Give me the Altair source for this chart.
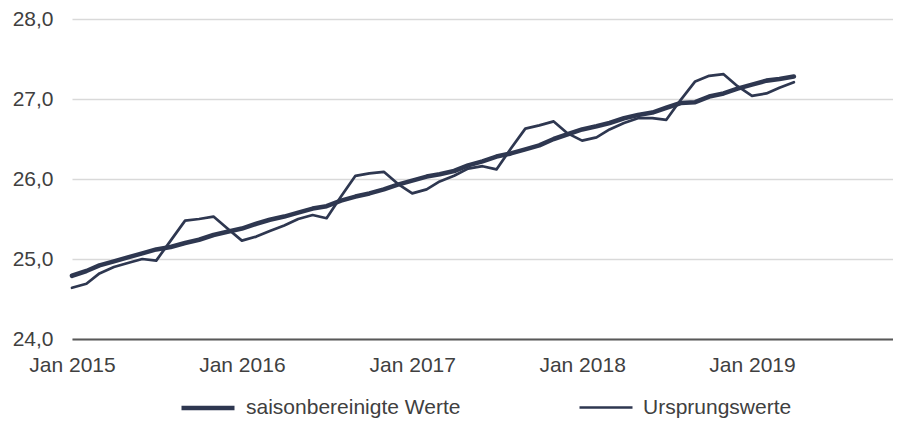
import altair as alt
import pandas as pd

# Monthly observations, Jan 2015 .. Apr 2019
months = pd.date_range("2015-01-01", periods=52, freq="MS").strftime("%Y-%m-%dT00:00:00").tolist()

series_names = ["saisonbereinigte Werte", "Ursprungswerte"]

saisonbereinigt = [
    24.79, 24.85, 24.92, 24.97, 25.02, 25.07, 25.12, 25.15, 25.20, 25.24, 25.30, 25.34,
    25.38, 25.44, 25.49, 25.53, 25.58, 25.63, 25.66, 25.73, 25.78, 25.82, 25.87, 25.93,
    25.98, 26.03, 26.06, 26.10, 26.17, 26.22, 26.28, 26.32, 26.37, 26.42, 26.50, 26.56,
    26.62, 26.66, 26.70, 26.76, 26.80, 26.83, 26.89, 26.95, 26.96, 27.03, 27.07, 27.13,
    27.18, 27.23, 27.25, 27.28,
]

ursprung = [
    24.64, 24.69, 24.82, 24.90, 24.95, 25.00, 24.98, 25.23, 25.48, 25.50, 25.53, 25.38,
    25.23, 25.28, 25.35, 25.42, 25.50, 25.55, 25.51, 25.78, 26.04, 26.07, 26.09, 25.94,
    25.82, 25.87, 25.97, 26.04, 26.13, 26.16, 26.12, 26.38, 26.63, 26.67, 26.72, 26.57,
    26.48, 26.52, 26.62, 26.70, 26.76, 26.76, 26.74, 26.99, 27.22, 27.29, 27.31, 27.16,
    27.04, 27.07, 27.14, 27.21,
]

y_ticks = [24, 25, 26, 27, 28]
x_tick_years = [2015, 2016, 2017, 2018, 2019]

df = pd.DataFrame({
    "Monat": months * 2,
    "Wert": saisonbereinigt + ursprung,
    "Reihe": [series_names[0]] * len(saisonbereinigt) + [series_names[1]] * len(ursprung),
})

LINE = "#2e3750"
TEXT = "#404040"
FONT = "Liberation Sans"

chart = alt.Chart(df).mark_line(strokeCap="round", strokeJoin="round").encode(
    x=alt.X(
        "Monat:T",
        scale=alt.Scale(domain=[alt.DateTime(year=2015, month=1, date=1),
                                alt.DateTime(year=2019, month=10, date=31)]),
        axis=alt.Axis(
            values=[alt.DateTime(year=y, month=1, date=1) for y in x_tick_years],
            format="%b %Y", title=None, grid=False, ticks=False,
            domainColor="#595959", domainWidth=2, labelPadding=15,
            labelFontSize=21, labelColor=TEXT, labelFont=FONT,
            labelAlign="center", labelOverlap=False, labelFlush=False,
        ),
    ),
    y=alt.Y(
        "Wert:Q",
        scale=alt.Scale(domain=[24, 28], nice=False, zero=False),
        axis=alt.Axis(
            values=y_ticks,
            labelExpr="replace(format(datum.value, '.1f'), '.', ',')",
            title=None, domain=False, ticks=False,
            gridColor="#d9d9d9", gridWidth=1.5,
            labelPadding=19, labelFontSize=21, labelColor=TEXT, labelFont=FONT,
        ),
    ),
    color=alt.Color(
        "Reihe:N",
        scale=alt.Scale(domain=series_names, range=[LINE, LINE]),
        legend=alt.Legend(title=None),
    ),
    strokeWidth=alt.StrokeWidth(
        "Reihe:N",
        scale=alt.Scale(domain=series_names, range=[4.6, 2.7]),
        legend=alt.Legend(title=None),
    ),
).properties(
    width=821,
    height=320,
    padding={"left": 64, "top": 11, "right": 0, "bottom": 80},
    autosize="none",
    background="white",
).configure_view(
    stroke=None
).configure_legend(
    orient="none",
    legendX=107,
    legendY=360,
    direction="horizontal",
    symbolType="stroke",
    symbolSize=2809,
    labelFontSize=21,
    labelColor=TEXT,
    labelFont=FONT,
    labelOffset=9,
    labelLimit=0,
    columnPadding=113,
    padding=0,
)

chart.save("out.html", embed_options={"renderer": "svg", "actions": False})
